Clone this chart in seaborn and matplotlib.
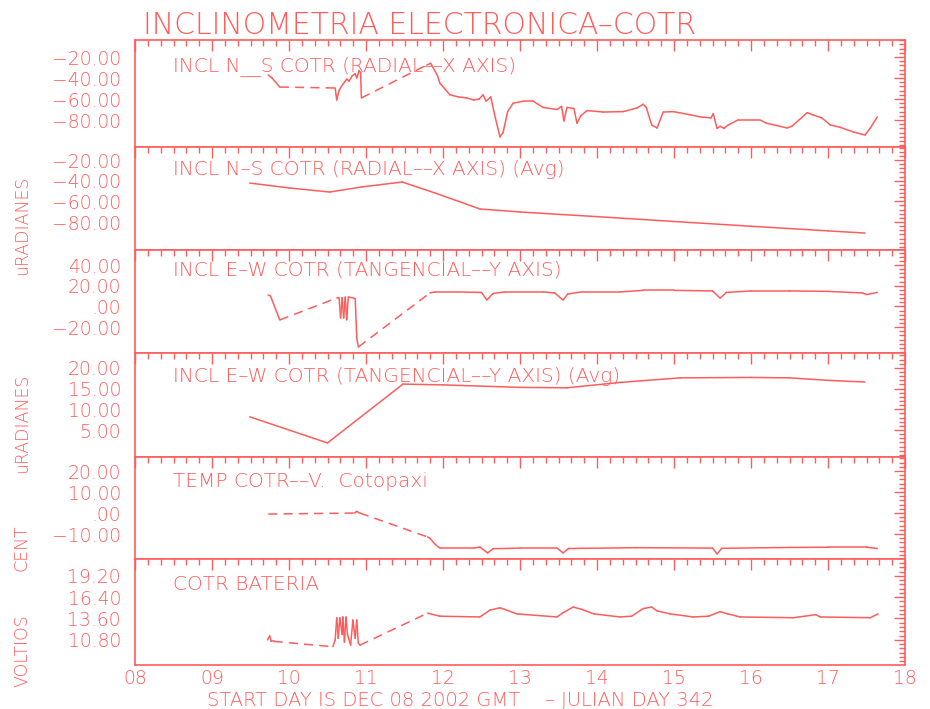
import matplotlib
matplotlib.use("Agg")
import matplotlib.pyplot as plt
import seaborn as sns
from matplotlib.ticker import FixedLocator, AutoMinorLocator

# ---- data (day of Dec 2002, value) ----
ns_x = [9.73, 9.78, 9.88, 10.60, 10.62, 10.65, 10.68, 10.72, 10.75, 10.78, 10.82, 10.86, 10.88,
        10.91, 10.93, 10.94, 11.79, 11.84, 11.93, 11.96, 12.02, 12.09, 12.20, 12.31, 12.40, 12.47,
        12.52, 12.56, 12.62, 12.68, 12.74, 12.78, 12.84, 12.91, 13.05, 13.17, 13.30, 13.48, 13.54,
        13.57, 13.61, 13.70, 13.74, 13.79, 13.87, 14.08, 14.34, 14.52, 14.60, 14.64, 14.71, 14.78,
        14.86, 14.99, 15.21, 15.34, 15.48, 15.51, 15.56, 15.60, 15.65, 15.70, 15.83, 16.12, 16.20,
        16.47, 16.53, 16.73, 16.80, 16.92, 17.03, 17.16, 17.33, 17.48, 17.55, 17.64]
ns_y = [-37.1, -40, -48.6, -49.5, -60.9, -52, -48, -44, -41, -43, -38, -36, -40,
        -33, -35, -59, -27.6, -26, -38, -45, -50, -56, -58, -59, -61, -60,
        -56, -62, -58, -78, -96, -92, -72, -64, -62, -62, -68, -70, -67,
        -81, -68, -69, -83, -76, -71, -72.4, -72, -68.5, -65, -68, -84.7, -87.6,
        -72.4, -72, -75, -77, -78, -74, -88, -86, -88, -85, -80, -80, -83,
        -87.6, -86, -73, -75, -78, -84.7, -87, -91.4, -94.3, -87.6, -77]
ns_gaps = [2, 15]

nsavg_x = [9.49, 10.00, 10.53, 10.95, 11.47, 11.90, 12.48, 13.00, 14.00, 15.00, 16.00, 17.00, 17.48]
nsavg_y = [-42.3, -47, -51, -46, -41.3, -52, -67.4, -70.3, -74.8, -79.5, -84.1, -88.6, -90.7]
nsavg_gaps = []

ew_x = [9.73, 9.76, 9.88, 10.62, 10.65, 10.67, 10.69, 10.71, 10.73, 10.75, 10.77, 10.82, 10.86,
        10.88, 10.90, 11.83, 11.90, 12.20, 12.50, 12.57, 12.65, 12.80, 13.30, 13.45, 13.56, 13.62,
        13.80, 14.30, 14.60, 15.00, 15.50, 15.60, 15.68, 16.00, 16.50, 17.00, 17.45, 17.50, 17.64]
ew_y = [11, 10, -13.1, 8.1, 8.5, -11, 8.5, -11.2, 9, -13, 9, 8.5, 7.5,
        -30, -39.2, 13, 14, 14, 13.5, 6.2, 12.5, 14, 14, 13, 6.2, 12,
        14, 14, 15.5, 15.5, 15, 8, 13.5, 15, 15, 14.5, 13, 11.5, 13.5]
ew_gaps = [2, 14]

ewavg_x = [9.49, 10.50, 11.48, 12.00, 13.00, 13.61, 14.30, 15.08, 16.00, 16.50, 17.00, 17.48]
ewavg_y = [8.2, 1.9, 16.1, 15.9, 15.3, 15.2, 16.5, 17.6, 17.7, 17.6, 17.0, 16.6]
ewavg_gaps = []

temp_x = [9.73, 10.85, 10.88, 10.92, 11.80, 11.83, 11.90, 11.96, 12.40, 12.48, 12.58, 12.65,
          13.00, 13.48, 13.56, 13.63, 14.50, 15.50, 15.56, 15.62, 16.50, 17.00, 17.50, 17.64]
temp_y = [-0.5, 0, 0.8, 0, -11.4, -12, -15, -16.7, -16.7, -16.2, -19, -17,
          -16.7, -16.7, -19, -16.9, -16.5, -16.7, -19.5, -16.8, -16.4, -16.3, -16.3, -16.9]
temp_gaps = [0, 3]

bat_x = [9.72, 9.75, 9.77, 9.80, 10.57, 10.60, 10.62, 10.64, 10.66, 10.69, 10.70, 10.72, 10.74,
         10.76, 10.80, 10.83, 10.86, 10.88, 10.90, 10.92, 11.80, 11.96, 12.48, 12.61, 12.74, 12.80,
         12.96, 13.48, 13.55, 13.69, 13.80, 13.96, 14.30, 14.45, 14.60, 14.71, 14.78, 14.95, 15.25,
         15.45, 15.60, 15.70, 15.86, 16.55, 16.84, 16.90, 17.55, 17.65]
bat_y = [10.8, 11.3, 10.6, 10.6, 9.9, 10.8, 13.7, 11, 13.7, 11.5, 13.8, 10.5, 13.8,
         11.5, 10.1, 13.4, 11, 13.4, 10.4, 10.1, 14.3, 13.9, 13.8, 14.7, 15.0, 14.8,
         14.2, 13.8, 14.3, 15.1, 14.8, 14.2, 13.8, 13.9, 14.9, 15.1, 14.6, 14.2, 13.8,
         13.9, 14.5, 14.2, 13.8, 13.7, 14.1, 13.8, 13.7, 14.2]
bat_gaps = [3, 19]

titles = ["INCL N__S COTR (RADIAL––X AXIS)",
          "INCL N–S COTR (RADIAL––X AXIS) (Avg)",
          "INCL E–W COTR (TANGENCIAL––Y AXIS)",
          "INCL E–W COTR (TANGENCIAL––Y AXIS) (Avg)",
          "TEMP COTR––V.  Cotopaxi",
          "COTR BATERIA"]
yticks = [[-20, -40, -60, -80], [-20, -40, -60, -80], [40, 20, 0, -20],
          [20, 15, 10, 5], [20, 10, 0, -10], [19.2, 16.4, 13.6, 10.8]]
ylims = [(-105.7, -3.8), (-107.1, -7.4), (-45, 54.5), (-1.5, 23.6), (-21.9, 26.7), (7.5, 21.4)]
title_y = [0.757, 0.777, 0.806, 0.77, 0.755, 0.755]
days = [8, 9, 10, 11, 12, 13, 14, 15, 16, 17, 18]
day_labels = ["08", "09", "10", "11", "12", "13", "14", "15", "16", "17", "18"]

series = [(ns_x, ns_y, ns_gaps), (nsavg_x, nsavg_y, nsavg_gaps), (ew_x, ew_y, ew_gaps),
          (ewavg_x, ewavg_y, ewavg_gaps), (temp_x, temp_y, temp_gaps), (bat_x, bat_y, bat_gaps)]

RED = "#ff5c5c"
sns.set_style("white")
plt.rcParams["font.family"] = ["DejaVu Sans"]
plt.rcParams["font.weight"] = "light"

W, H = 930, 709
fig = plt.figure(figsize=(W / 100, H / 100), dpi=100)
edges = [40, 147, 250, 353, 457, 559, 665]
left, right = 135, 905


def fmt(v):
    s = f"{abs(v):.2f}"
    if s.startswith("0"):
        s = s[1:]
    return ("−" if v < 0 else "") + s


for i, (xs, ys, gaps) in enumerate(series):
    top, bot = edges[i], edges[i + 1]
    ax = fig.add_axes([left / W, 1 - bot / H, (right - left) / W, (bot - top) / H])
    # draw segment by segment: dashed across data gaps, solid elsewhere
    for j in range(len(xs) - 1):
        ls = (0, (6, 4)) if j in gaps else "-"
        sns.lineplot(x=xs[j:j + 2], y=ys[j:j + 2], ax=ax, color=RED, lw=1.1,
                     linestyle=ls, sort=False, estimator=None)
    ax.set_xlim(8, 18)
    ax.set_ylim(*ylims[i])
    ax.xaxis.set_major_locator(FixedLocator(days))
    ax.xaxis.set_minor_locator(AutoMinorLocator(6))
    ax.yaxis.set_major_locator(FixedLocator(yticks[i]))
    ax.set_yticklabels([fmt(v) for v in yticks[i]])
    ax.yaxis.set_minor_locator(AutoMinorLocator(5))
    ax.tick_params(which="both", direction="in", top=True, right=True, color=RED,
                   labelcolor=RED, labelsize=13.5, width=1)
    ax.tick_params(which="major", length=8, pad=10)
    ax.tick_params(which="minor", length=4)
    if i == len(series) - 1:
        ax.set_xticklabels(day_labels)
        ax.tick_params(axis="x", pad=3, labelsize=13.5)
    else:
        ax.set_xticklabels([])
    for sp in ax.spines.values():
        sp.set_color(RED)
        sp.set_linewidth(1.2)
    ax.set_xlabel("")
    ax.set_ylabel("")
    ax.text(0.049, title_y[i], titles[i], transform=ax.transAxes, color=RED,
            fontsize=14.5, ha="left", va="center")

fig.text(143 / W, 1 - 25 / H, "INCLINOMETRIA ELECTRONICA–COTR", color=RED, fontsize=21.5,
         ha="left", va="center")
for lab, yc in [("uRADIANES", 225), ("uRADIANES", 423), ("CENT", 548), ("VOLTIOS", 651)]:
    fig.text(22 / W, 1 - yc / H, lab, color=RED, fontsize=12.5, rotation=90,
             ha="center", va="center")
fig.text(207 / W, 1 - 700 / H, "START DAY IS DEC 08 2002 GMT    – JULIAN DAY 342",
         color=RED, fontsize=14, ha="left", va="center")

fig.savefig("out.png", dpi=100, facecolor="white")
